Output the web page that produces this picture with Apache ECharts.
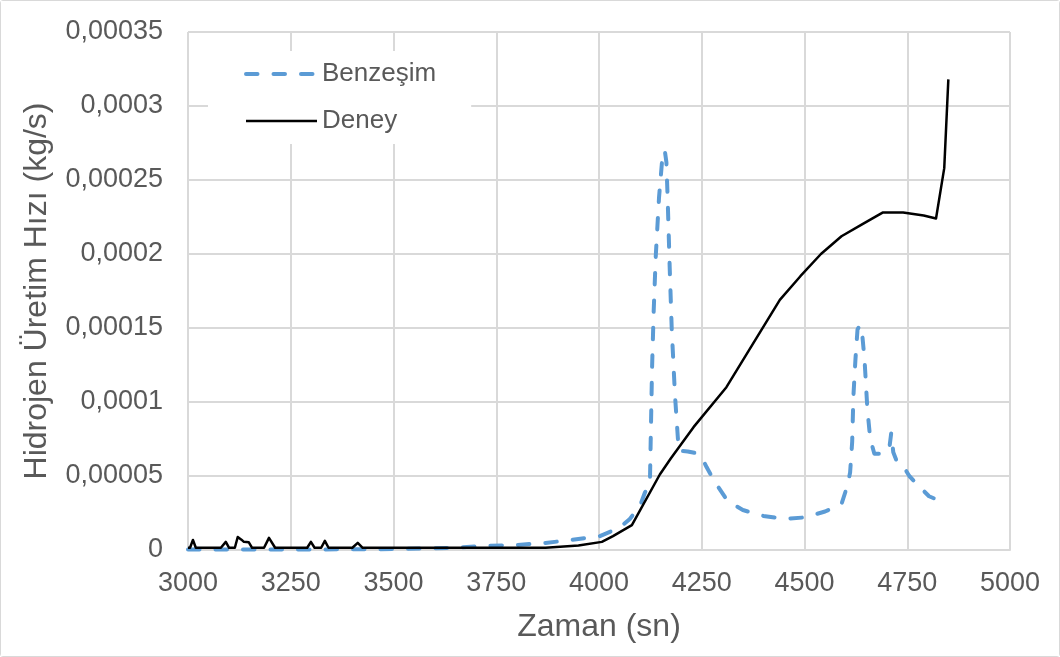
<!DOCTYPE html>
<html>
<head>
<meta charset="utf-8">
<script src="https://cdn.jsdelivr.net/npm/echarts@6/dist/echarts.min.js"></script>
<style>
  html, body { margin: 0; padding: 0; background: #fff; }
  #chart { width: 1060px; height: 657px; box-sizing: border-box; border: 1px solid #d9d9d9; border-radius: 3px; }
</style>
</head>
<body>
<div id="chart"></div>
<script>
// Simulated hydrogen production rate (Benzeşim)
const benzesimX = [3000, 3250, 3500, 3650, 3718, 3801, 3870, 3930, 4002, 4050, 4075, 4100, 4112, 4119, 4124, 4129, 4133, 4138, 4146, 4155, 4160, 4164, 4167, 4172, 4177, 4185, 4194, 4216, 4235, 4250, 4262, 4282, 4313, 4350, 4400, 4450, 4500, 4550, 4590, 4605, 4611, 4616, 4619, 4624, 4629, 4635, 4641, 4646, 4653, 4660, 4670, 4686, 4699, 4706, 4711, 4716, 4723, 4735, 4755, 4779, 4803, 4840];
const benzesimY = [0.0000003, 0.0000003, 0.0000006, 0.0000015, 0.0000027, 0.0000034, 0.0000048, 0.0000067, 0.0000094, 0.000015, 0.000021, 0.00003, 0.000039, 0.000042, 0.000047, 0.000122, 0.000161, 0.000198, 0.000238, 0.000268, 0.00027, 0.000262, 0.000238, 0.000191, 0.000149, 0.000104, 0.000067, 0.0000666, 0.0000655, 0.0000626, 0.0000559, 0.000046, 0.000033, 0.000027, 0.000023, 0.000021, 0.000022, 0.000026, 0.000031, 0.000044, 0.0000525, 0.000073, 0.000104, 0.000129, 0.000149, 0.000152, 0.000144, 0.000129, 0.000095, 0.000075, 0.000065, 0.000065, 0.0000666, 0.000068, 0.000079, 0.000066, 0.000061, 0.000059, 0.00005, 0.000043, 0.0000363, 0.000032];

// Measured hydrogen production rate (Deney)
const deneyX = [3000, 3005, 3012, 3019, 3080, 3092, 3100, 3114, 3121, 3130, 3136, 3148, 3156, 3185, 3197, 3212, 3290, 3299, 3308, 3324, 3333, 3342, 3400, 3413, 3425, 3870, 3950, 4007, 4034, 4080, 4148, 4175, 4230, 4310, 4440, 4490, 4540, 4590, 4640, 4690, 4740, 4790, 4820, 4840, 4850];
const deneyY = [0.0000015, 0.0000015, 0.0000068, 0.0000015, 0.0000015, 0.0000055, 0.0000015, 0.0000015, 0.0000088, 0.000007, 0.0000055, 0.0000052, 0.0000015, 0.0000015, 0.0000082, 0.0000015, 0.0000015, 0.0000055, 0.0000015, 0.0000015, 0.0000062, 0.0000015, 0.0000015, 0.0000048, 0.0000015, 0.0000015, 0.000003, 0.0000055, 0.0000094, 0.0000168, 0.000051, 0.000062, 0.000083, 0.00011, 0.000169, 0.000185, 0.0002, 0.000212, 0.00022, 0.000228, 0.000228, 0.000226, 0.000224, 0.000258, 0.000318];

const seriesNames = ['Benzeşim', 'Deney'];
const xTitle = 'Zaman (sn)';
const yTitle = 'Hidrojen Üretim Hızı (kg/s)';

const toPairs = (xs, ys) => xs.map((x, i) => [x, ys[i]]);
// Decimal comma, no thousands separator
const fmtY = v => (v === 0 ? '0' : String(Number(v.toPrecision(6)))).replace('.', ',');
const fmtX = v => String(v);

const textColor = '#595959';
const gridColor = '#d9d9d9';
const font = 'Liberation Sans, Arial, sans-serif';

const simLine = { color: '#5b9bd5', width: 4, type: [11.5, 16], cap: 'round', join: 'round' };
const expLine = { color: '#000000', width: 2.5, join: 'round' };

const chart = echarts.init(document.getElementById('chart'), null, { renderer: 'canvas' });
chart.setOption({
  animation: false,
  backgroundColor: '#ffffff',
  grid: { left: 187, right: 49, top: 31, bottom: 106 },
  legend: {
    orient: 'vertical',
    left: 207,
    top: 50,
    itemWidth: 71,
    itemHeight: 14,
    itemGap: 21,
    padding: [10, 35, 10, 36],
    backgroundColor: '#ffffff',
    itemStyle: { opacity: 0 },
    textStyle: { fontFamily: font, fontSize: 26, color: textColor },
    data: [
      { name: seriesNames[0], lineStyle: simLine },
      { name: seriesNames[1], lineStyle: expLine }
    ]
  },
  xAxis: {
    type: 'value',
    min: 3000,
    max: 5000,
    interval: 250,
    name: xTitle,
    nameLocation: 'middle',
    nameGap: 61,
    nameTextStyle: { fontFamily: font, fontSize: 32, color: textColor },
    axisLine: { show: true, lineStyle: { color: gridColor, width: 2 } },
    axisTick: { show: false },
    axisLabel: { fontFamily: font, fontSize: 27, color: textColor, margin: 20, formatter: fmtX },
    splitLine: { show: true, lineStyle: { color: gridColor, width: 2 } }
  },
  yAxis: {
    type: 'value',
    min: 0,
    max: 0.00035,
    interval: 0.00005,
    name: yTitle,
    nameLocation: 'middle',
    nameGap: 135,
    nameTextStyle: { fontFamily: font, fontSize: 32, color: textColor },
    axisLine: { show: false },
    axisTick: { show: false },
    axisLabel: { fontFamily: font, fontSize: 27, color: textColor, margin: 25, formatter: fmtY },
    splitLine: { show: true, lineStyle: { color: gridColor, width: 2 } }
  },
  series: [
    {
      name: seriesNames[0],
      type: 'line',
      data: toPairs(benzesimX, benzesimY),
      symbol: 'none',
      smooth: false,
      lineStyle: simLine,
      itemStyle: { color: '#5b9bd5' },
      z: 2
    },
    {
      name: seriesNames[1],
      type: 'line',
      data: toPairs(deneyX, deneyY),
      symbol: 'none',
      smooth: false,
      lineStyle: expLine,
      itemStyle: { color: '#000000' },
      z: 3
    }
  ]
});
</script>
</body>
</html>
